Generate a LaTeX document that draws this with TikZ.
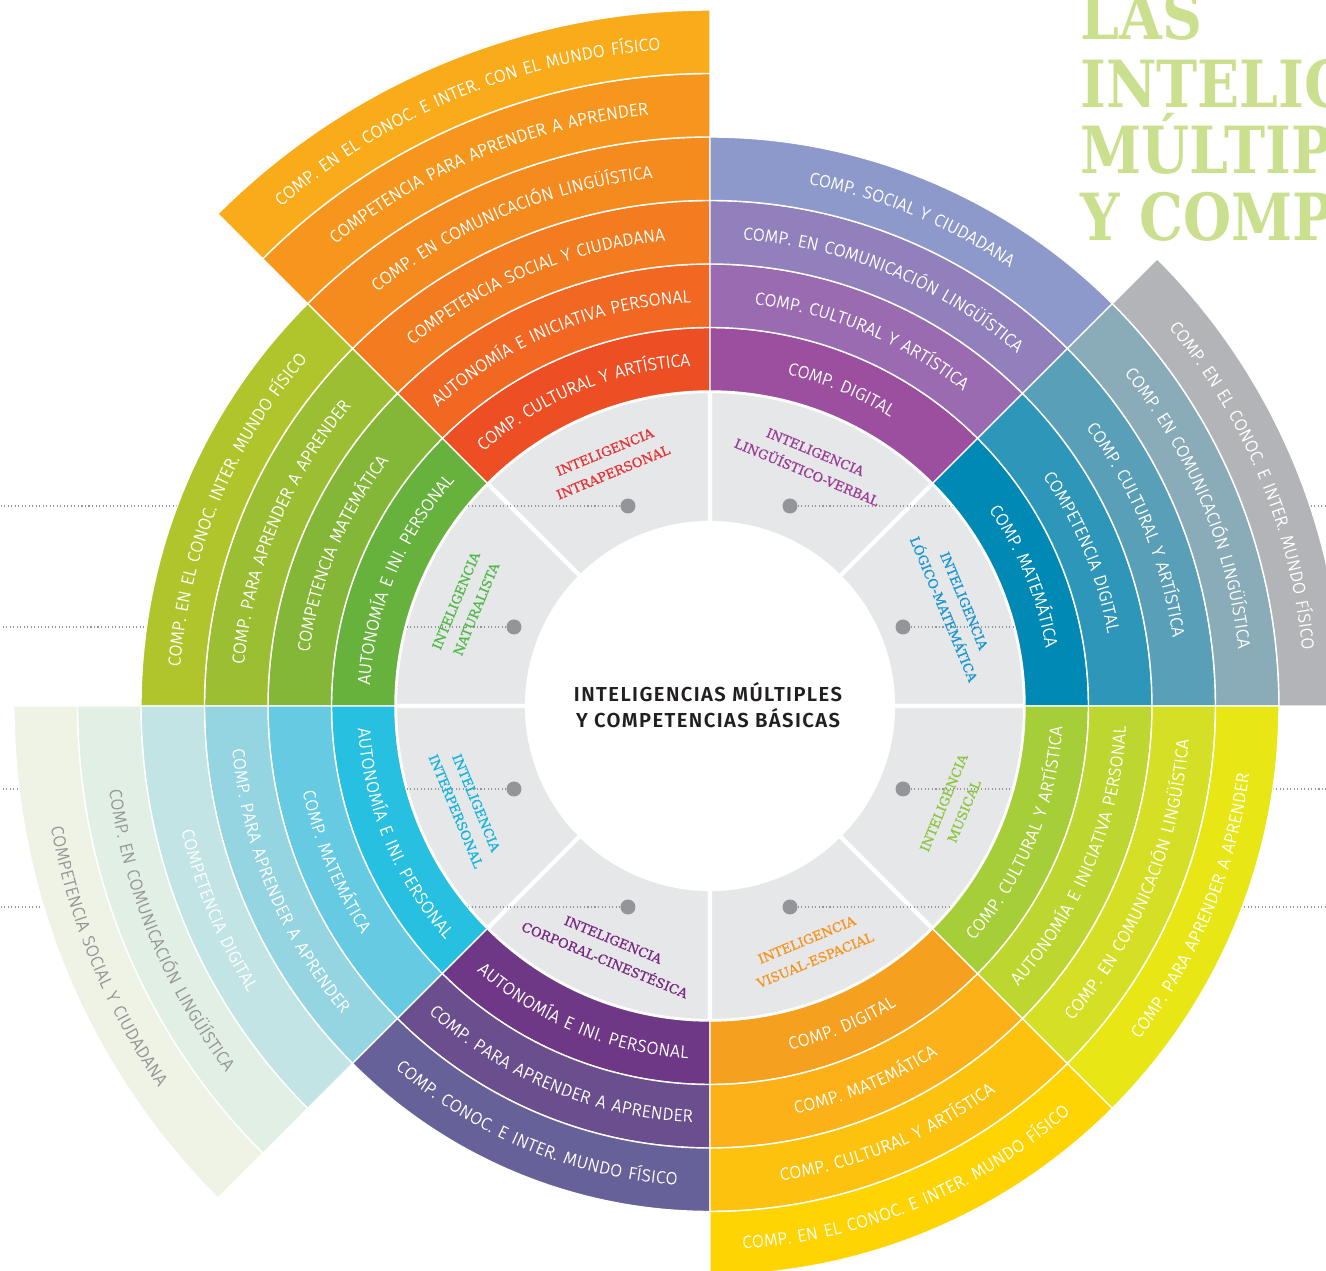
\documentclass[tikz,border=0pt]{standalone}
\usepackage{fontspec}
\usetikzlibrary{decorations.text}
\newfontfamily\ringfont{Fira Sans Light}[LetterSpace=8,FakeBold=0.3]
\newfontfamily\hubfont{Fira Sans SemiBold}[LetterSpace=7]
\newfontfamily\slabfont{DejaVu Serif}
\newfontfamily\slabmid{DejaVu Serif}[FakeBold=0.8]
\newcommand\ringtxt{\ringfont\fontsize{10}{11}\selectfont}
\newcommand\slabtxt{\slabmid\fontsize{7.4}{12.5}\selectfont}
\definecolor{wheelgray}{RGB}{230,231,232}
\definecolor{dotgray}{RGB}{147,149,152}
\definecolor{softlbl}{RGB}{150,150,150}
\definecolor{hubink}{RGB}{35,31,32}
\definecolor{titlegreen}{RGB}{202,224,143}
\definecolor{cIntra}{RGB}{228,50,55}
\definecolor{cLing}{RGB}{155,60,150}
\definecolor{cLogic}{RGB}{25,150,210}
\definecolor{cMus}{RGB}{140,198,63}
\definecolor{cVis}{RGB}{247,148,29}
\definecolor{cCorp}{RGB}{120,40,130}
\definecolor{cInter}{RGB}{20,180,225}
\definecolor{cNat}{RGB}{80,185,72}
\begin{document}
\begin{tikzpicture}[x=0.02cm,y=0.02cm,
  graysector/.style={fill=wheelgray,draw=white,line width=2.4pt},
  band/.style={fill=segfill,draw=white,line width=0.8pt},
  greydot/.style={circle,fill=dotgray,inner sep=0pt,minimum size=0.3cm},
  leader/.style={draw=dotgray,line width=0.6pt,dash pattern=on 0.6pt off 1.4pt},
  intel/.style={align=center,font=\slabtxt,inner sep=0pt},
  headline/.style={anchor=base west,inner sep=0pt,text=titlegreen,font=\slabfont\bfseries\fontsize{37}{40}\selectfont}]
\def\rc{315};
\def\dr{63.5};

% one coloured band: first angle, ring, RGB, text colour, label
\def\seg#1#2#3#4#5{%
  \definecolor{segfill}{RGB}{#3}%
  \pgfmathsetmacro\rIn{\rc+(#2-1)*\dr}%
  \pgfmathsetmacro\rOut{\rIn+\dr}%
  \pgfmathsetmacro\rMid{\rIn+0.5*\dr}%
  \pgfmathsetmacro\aEnd{#1+45}%
  \filldraw[band] (#1:\rIn) arc[start angle=#1,end angle=\aEnd,radius=\rIn] -- (\aEnd:\rOut) arc[start angle=\aEnd,end angle=#1,radius=\rOut] -- cycle;
  \ifnum#1<180
    \pgfmathsetmacro\aA{\aEnd+4}\pgfmathsetmacro\aB{#1-4}%
  \else
    \pgfmathsetmacro\aA{#1-4}\pgfmathsetmacro\aB{\aEnd+4}%
  \fi
  \path[decorate,decoration={text along path,text align=center,raise=-3.4pt,text color=#4,text={|\ringtxt|#5}}] (\aA:\rMid) arc[start angle=\aA,end angle=\aB,radius=\rMid];
}

\path[use as bounding box] (-710,-565) rectangle (616,706);
\clip (-710,-565) rectangle (616,706);

% grey ring
\foreach \a in {0,45,...,315}
  \filldraw[graysector] (\a:183) arc[start angle=\a,end angle=\a+45,radius=183] -- (\a+45:315) arc[start angle=\a+45,end angle=\a,radius=315] -- cycle;

% dots and leaders
\node[greydot] (dIntra) at (-82,200) {};
\node[greydot] (dLing) at (80,200) {};
\node[greydot] (dLogic) at (193,79) {};
\node[greydot] (dMus) at (193,-83) {};
\node[greydot] (dVis) at (80,-201) {};
\node[greydot] (dCorp) at (-82,-201) {};
\node[greydot] (dInter) at (-196,-83) {};
\node[greydot] (dNat) at (-196,79) {};
\coordinate (eIntra) at (-720,200);
\coordinate (eLing) at (630,200);
\coordinate (eLogic) at (630,79);
\coordinate (eMus) at (630,-83);
\coordinate (eVis) at (630,-201);
\coordinate (eCorp) at (-720,-201);
\coordinate (eInter) at (-720,-83);
\coordinate (eNat) at (-720,79);
\draw[leader] (dIntra) -- (eIntra);
\draw[leader] (dLing) -- (eLing);
\draw[leader] (dLogic) -- (eLogic);
\draw[leader] (dMus) -- (eMus);
\draw[leader] (dVis) -- (eVis);
\draw[leader] (dCorp) -- (eCorp);
\draw[leader] (dInter) -- (eInter);
\draw[leader] (dNat) -- (eNat);

% intrapersonal
\seg{90}{1}{238,78,35}{white}{COMP. CULTURAL Y ARTÍSTICA}
\seg{90}{2}{242,103,34}{white}{AUTONOMÍA E INICIATIVA PERSONAL}
\seg{90}{3}{244,124,32}{white}{COMPETENCIA SOCIAL Y CIUDADANA}
\seg{90}{4}{245,138,31}{white}{COMP. EN COMUNICACIÓN LINGÜÍSTICA}
\seg{90}{5}{247,150,29}{white}{COMPETENCIA PARA APRENDER A APRENDER}
\seg{90}{6}{250,171,26}{white}{COMP. EN EL CONOC. E INTER. CON EL MUNDO FÍSICO}
% linguistico-verbal
\seg{45}{1}{155,79,158}{white}{COMP. DIGITAL}
\seg{45}{2}{154,107,176}{white}{COMP. CULTURAL Y ARTÍSTICA}
\seg{45}{3}{146,128,189}{white}{COMP. EN COMUNICACIÓN LINGÜÍSTICA}
\seg{45}{4}{142,153,203}{white}{COMP. SOCIAL Y CIUDADANA}
% logico-matematica
\seg{0}{1}{0,137,180}{white}{COMP. MATEMÁTICA}
\seg{0}{2}{46,150,184}{white}{COMPETENCIA DIGITAL}
\seg{0}{3}{90,159,184}{white}{COMP. CULTURAL Y ARTÍSTICA}
\seg{0}{4}{138,171,184}{white}{COMP. EN COMUNICACIÓN LINGÜÍSTICA}
\seg{0}{5}{179,180,183}{white}{COMP. EN EL CONOC. E INTER. MUNDO FÍSICO}
% naturalista
\seg{135}{1}{103,178,61}{white}{AUTONOMÍA E INI. PERSONAL}
\seg{135}{2}{132,183,55}{white}{COMPETENCIA MATEMÁTICA}
\seg{135}{3}{155,190,51}{white}{COMP. PARA APRENDER A APRENDER}
\seg{135}{4}{176,197,44}{white}{COMP. EN EL CONOC. INTER. MUNDO FÍSICO}
% interpersonal
\seg{180}{1}{39,192,224}{white}{AUTONOMÍA E INI. PERSONAL}
\seg{180}{2}{101,202,226}{white}{COMP. MATEMÁTICA}
\seg{180}{3}{149,213,226}{white}{COMP. PARA APRENDER A APRENDER}
\seg{180}{4}{194,228,228}{white}{COMPETENCIA DIGITAL}
\seg{180}{5}{226,239,228}{softlbl}{COMP. EN COMUNICACIÓN LINGÜÍSTICA}
\seg{180}{6}{238,243,230}{softlbl}{COMPETENCIA SOCIAL Y CIUDADANA}
% corporal-cinestesica
\seg{225}{1}{111,56,134}{white}{AUTONOMÍA E INI. PERSONAL}
\seg{225}{2}{106,78,142}{white}{COMP. PARA APRENDER A APRENDER}
\seg{225}{3}{102,97,152}{white}{COMP. CONOC. E INTER. MUNDO FÍSICO}
% visual-espacial
\seg{270}{1}{245,160,31}{white}{COMP. DIGITAL}
\seg{270}{2}{251,177,23}{white}{COMP. MATEMÁTICA}
\seg{270}{3}{253,194,14}{white}{COMP. CULTURAL Y ARTÍSTICA}
\seg{270}{4}{255,212,0}{white}{COMP. EN EL CONOC. E INTER. MUNDO FÍSICO}
% musical
\seg{315}{1}{166,206,57}{white}{COMP. CULTURAL Y ARTÍSTICA}
\seg{315}{2}{190,214,48}{white}{AUTONOMÍA E INICIATIVA PERSONAL}
\seg{315}{3}{213,223,38}{white}{COMP. EN COMUNICACIÓN LINGÜÍSTICA}
\seg{315}{4}{232,230,20}{white}{COMP. PARA APRENDER A APRENDER}

% intelligences
\node[intel,text=cIntra,rotate=22.5] (lIntra) at (112.5:264) {INTELIGENCIA\\INTRAPERSONAL};
\node[intel,text=cLing,rotate=-22.5] (lLing) at (67.5:264) {INTELIGENCIA\\LINGÜÍSTICO-VERBAL};
\node[intel,text=cLogic,rotate=-67.5] (lLogic) at (22.5:264) {INTELIGENCIA\\LÓGICO-MATEMÁTICA};
\node[intel,text=cMus,rotate=67.5] (lMus) at (-22.5:264) {INTELIGENCIA\\MUSICAL};
\node[intel,text=cVis,rotate=22.5] (lVis) at (-67.5:264) {INTELIGENCIA\\VISUAL-ESPACIAL};
\node[intel,text=cCorp,rotate=-22.5] (lCorp) at (247.5:264) {INTELIGENCIA\\CORPORAL-CINESTÉSICA};
\node[intel,text=cInter,rotate=-67.5] (lInter) at (202.5:264) {INTELIGENCIA\\INTERPERSONAL};
\node[intel,text=cNat,rotate=67.5] (lNat) at (157.5:264) {INTELIGENCIA\\NATURALISTA};

\node[align=center,text=hubink,font=\hubfont\fontsize{11.5}{14.7}\selectfont] (hub) at (-2,1) {INTELIGENCIAS MÚLTIPLES\\Y COMPETENCIAS BÁSICAS};

% title
\node[headline] (tLas) at (370,666) {\scalebox{0.85}[1]{LAS}};
\node[headline] (tInt) at (370,598) {\scalebox{0.85}[1]{INTELIGENCIAS}};
\node[headline] (tMul) at (370,532) {\scalebox{0.85}[1]{MÚLTIPLES}};
\node[headline] (tComp) at (370,465) {\scalebox{0.85}[1]{Y COMPETENCIAS}};
\end{tikzpicture}
\end{document}
